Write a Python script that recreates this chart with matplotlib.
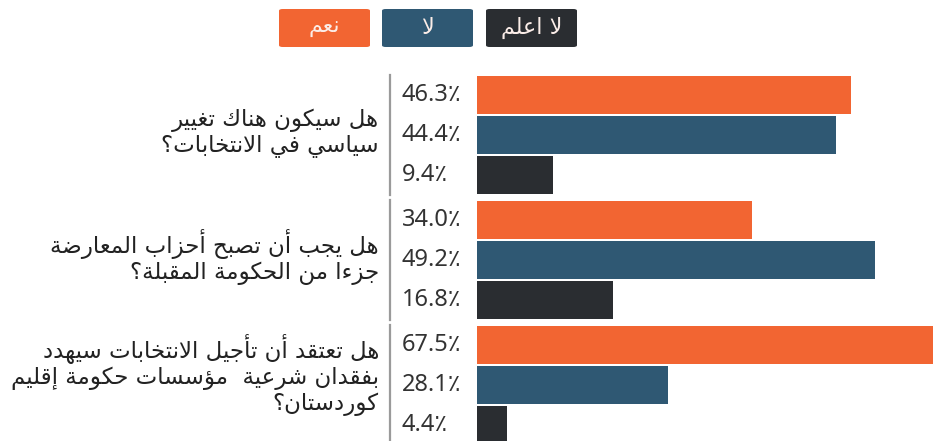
import matplotlib
matplotlib.use("Agg")
import matplotlib.pyplot as plt
from matplotlib.patches import FancyBboxPatch

# data
questions = [
    ["هل سيكون هناك تغيير", "سياسي في الانتخابات؟"],
    ["هل يجب أن تصبح أحزاب المعارضة", "جزءا من الحكومة المقبلة؟"],
    ["هل تعتقد أن تأجيل الانتخابات سيهدد", "بفقدان شرعية  مؤسسات حكومة إقليم", "كوردستان؟"],
]
yes_vals = [46.3, 34.0, 67.5]
no_vals = [44.4, 49.2, 28.1]
dunno_vals = [9.4, 16.8, 4.4]
legend_labels = ["نعم", "لا", "لا اعلم"]
colors = ["#F26532", "#2F5873", "#2A2D31"]
group_xmax = [56.4, 56.4, 67.1]

# minimal arabic shaping (matplotlib has no complex text layout)
DUAL = dict(zip("ئبتثجحخسشصضطظعغفقكلمنهي",
                [0xFE89, 0xFE8F, 0xFE95, 0xFE99, 0xFE9D, 0xFEA1, 0xFEA5, 0xFEB1,
                 0xFEB5, 0xFEB9, 0xFEBD, 0xFEC1, 0xFEC5, 0xFEC9, 0xFECD, 0xFED1,
                 0xFED5, 0xFED9, 0xFEDD, 0xFEE1, 0xFEE5, 0xFEE9, 0xFEF1]))
RIGHT = dict(zip("آأؤإاةدذرزوى",
                 [0xFE81, 0xFE83, 0xFE85, 0xFE87, 0xFE8D, 0xFE93, 0xFEA9, 0xFEAB,
                  0xFEAD, 0xFEAF, 0xFEED, 0xFEEF]))
LAMALEF = {"آ": 0xFEF5, "أ": 0xFEF7, "إ": 0xFEF9, "ا": 0xFEFB}


def shape(text):
    tokens = []
    i = 0
    while i < len(text):
        c = text[i]
        if c == "ل" and i + 1 < len(text) and text[i + 1] in LAMALEF:
            tokens.append(("R", LAMALEF[text[i + 1]]))
            i += 2
            continue
        if c in DUAL:
            tokens.append(("D", DUAL[c]))
        elif c in RIGHT:
            tokens.append(("R", RIGHT[c]))
        else:
            tokens.append(("N", c))
        i += 1
    out = []
    for k, (kind, base) in enumerate(tokens):
        if kind == "N":
            out.append(base)
            continue
        prev_dual = k > 0 and tokens[k - 1][0] == "D"
        next_join = kind == "D" and k + 1 < len(tokens) and tokens[k + 1][0] != "N"
        if prev_dual and next_join:
            idx = 3
        elif prev_dual:
            idx = 1
        elif next_join:
            idx = 2
        else:
            idx = 0
        out.append(chr(base + idx))
    return "".join(reversed(out))


W, H = 933, 441
fig = plt.figure(figsize=(W / 100, H / 100), dpi=100)
fig.patch.set_facecolor("white")

# legend boxes
box_left = [279, 382, 486]
for lab, col, bx in zip(legend_labels, colors, box_left):
    fig.patches.append(FancyBboxPatch((bx / W, 1 - 47 / H), 91 / W, 38 / H,
                                      boxstyle="round,pad=0,rounding_size=0.004",
                                      transform=fig.transFigure, fc=col, ec="none"))
    fig.text((bx + 45.5) / W, 1 - 28 / H, shape(lab), color="#FBEDE8",
             fontsize=16, ha="center", va="center", family="DejaVu Sans")

group_top = [75, 200, 325]
text_ctr = [133, 257, 375]
for g in range(3):
    top = group_top[g]
    ax = fig.add_axes([477 / W, 1 - (top + 120) / H, 456 / W, 120 / H])
    vals = [yes_vals[g], no_vals[g], dunno_vals[g]]
    ypos = [2, 1, 0]
    ax.barh(ypos, vals, height=0.95, color=colors, left=0)
    ax.set_xlim(0, group_xmax[g])
    ax.set_ylim(-0.5, 2.5)
    ax.axis("off")
    for y, v in zip(ypos, vals):
        ax.annotate(f"{v:.1f}٪", xy=(0, y), xytext=(-54, 0), textcoords="offset points",
                    ha="left", va="center", fontsize=17, color="#333333",
                    family=["Noto Sans", "DejaVu Sans"], annotation_clip=False)
    sep = -87 / 456
    ax.plot([sep, sep], [0.0, 1.0], transform=ax.transAxes, color="#9A9A9A",
            lw=1.6, clip_on=False)

    lines = questions[g]
    fig.text(379 / W, 1 - text_ctr[g] / H, "\n".join(shape(s) for s in lines),
             ha="right", va="center", multialignment="right", fontsize=16.5,
             color="#222222", family="DejaVu Sans", linespacing=1.1)

fig.savefig("out.png", dpi=100)
